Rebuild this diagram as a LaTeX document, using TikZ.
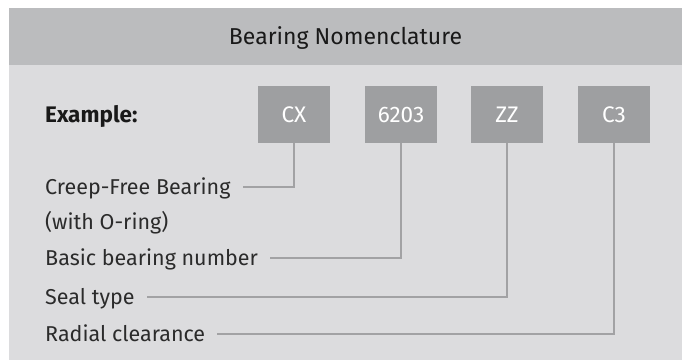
\documentclass[tikz,border=0pt]{standalone}
\usepackage{fontspec}
\setmainfont{Fira Sans}
\definecolor{headbg}{HTML}{BBBCBE}
\definecolor{bodybg}{HTML}{DCDCDE}
\definecolor{boxbg}{HTML}{9E9FA1}
\definecolor{linec}{HTML}{A2A2A4}
\definecolor{txt}{HTML}{2B2B2B}
\begin{document}
\begin{tikzpicture}[x=1pt,y=-1pt,
  codebox/.style={fill=boxbg,draw=none,minimum width=72pt,minimum height=57pt,inner sep=0pt,
    text=white,font=\fontsize{22.5}{26}\selectfont},
  lab/.style={anchor=base west,inner xsep=12pt,inner ysep=0pt,text height=14pt,text depth=0pt,
    text=txt,font=\fontsize{21.5}{24}\selectfont},
  conn/.style={draw=linec,line width=2pt}]
\useasboundingbox (0,0) rectangle (682,360);
\fill[white] (0,0) rectangle (682,360);
\fill[headbg] (9,8) rectangle (682,65);
\fill[bodybg] (9,65) rectangle (682,360);
\node[anchor=base,text=black!90,font=\fontsize{23}{26}\selectfont] (title) at (345.5,44) {Bearing Nomenclature};
\node[anchor=base west,inner sep=0pt,text=black!90,font=\bfseries\fontsize{22.5}{26}\selectfont] (ex) at (45,122) {Example:};
\node[codebox] (cx) at (294,114.5) {CX};
\node[codebox] (num) at (401,114.5) {6203};
\node[codebox] (zz) at (507,114.5) {ZZ};
\node[codebox] (c3) at (614,114.5) {C3};
\node[lab] (l1) at (33,194) {Creep-Free Bearing};
\node[lab] (l1b) at (33,229) {(with O-ring)};
\node[lab] (l2) at (33,265) {Basic bearing number};
\node[lab] (l3) at (33,304) {Seal type};
\node[lab] (l4) at (33,341) {Radial clearance};
\draw[conn] (cx.south) |- (l1.east);
\draw[conn] (num.south) |- (l2.east);
\draw[conn] (zz.south) |- (l3.east);
\draw[conn] (c3.south) |- (l4.east);
\end{tikzpicture}
\end{document}
